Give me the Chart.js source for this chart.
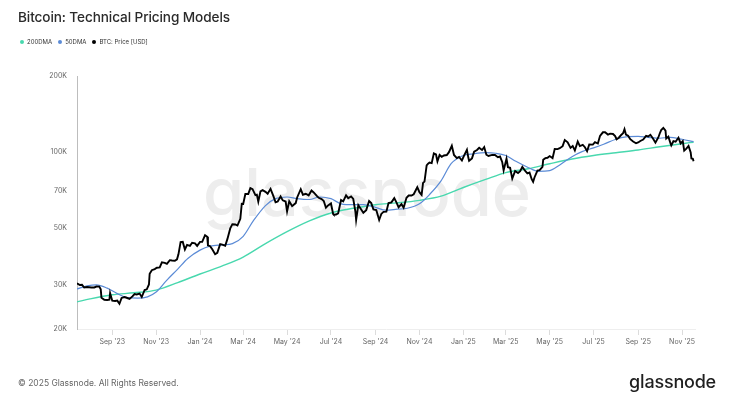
<!DOCTYPE html>
<html>
<head>
<meta charset="utf-8">
<title>Bitcoin: Technical Pricing Models</title>
<script src="https://cdn.jsdelivr.net/npm/chart.js@4.4.1/dist/chart.umd.min.js"></script>
<style>
  body { margin: 0; background: #fff; font-family: Inter, "Noto Sans", sans-serif; }
  #wrap { position: relative; width: 735px; height: 400px; overflow: hidden; }
  #chart { position: absolute; left: 0; top: 0; }
  .title { position: absolute; left: 18px; top: 9px; font-size: 13.6px; font-weight: 500; color: #2a2a2a; letter-spacing: -0.1px; }
  .legend { position: absolute; left: 20px; top: 38px; display: flex; gap: 6px; font-size: 6px; color: #333; }
  .legend span { display: flex; align-items: center; }
  .legend i { display: inline-block; width: 4px; height: 4px; border-radius: 50%; margin-right: 3px; }
  .copy { position: absolute; left: 18px; top: 378px; font-size: 8.5px; color: #666; }
  .logo { position: absolute; right: 19px; top: 371px; font-size: 18px; font-weight: 500; color: #1f1f1f; letter-spacing: -0.2px; }
</style>
</head>
<body>
<div id="wrap">
  <canvas id="chart" width="735" height="400"></canvas>
  <div class="title">Bitcoin: Technical Pricing Models</div>
  <div class="legend">
    <span><i style="background:#48d8ae"></i>200DMA</span>
    <span><i style="background:#5b8bd6"></i>50DMA</span>
    <span><i style="background:#000"></i>BTC: Price [USD]</span>
  </div>
  <div class="copy">© 2025 Glassnode. All Rights Reserved.</div>
  <div class="logo">glassnode</div>
</div>
<script>
// BTC price (USD)
const priceDates = [
  "2023-07-14","2023-07-18","2023-07-21","2023-07-24","2023-07-28","2023-07-31",
  "2023-08-03","2023-08-07","2023-08-10","2023-08-14","2023-08-16","2023-08-17","2023-08-21","2023-08-25","2023-08-28","2023-08-29",
  "2023-09-01","2023-09-05","2023-09-08","2023-09-11","2023-09-14","2023-09-18","2023-09-21","2023-09-25","2023-09-29",
  "2023-10-02","2023-10-05","2023-10-09","2023-10-12","2023-10-16","2023-10-19","2023-10-22","2023-10-23","2023-10-26","2023-10-30",
  "2023-11-02","2023-11-06","2023-11-09","2023-11-13","2023-11-16","2023-11-20","2023-11-23","2023-11-27","2023-11-30",
  "2023-12-02","2023-12-05","2023-12-08","2023-12-11","2023-12-14","2023-12-18","2023-12-21","2023-12-25","2023-12-28",
  "2024-01-01","2024-01-04","2024-01-08","2024-01-11","2024-01-12","2024-01-15","2024-01-18","2024-01-22","2024-01-25","2024-01-29",
  "2024-02-01","2024-02-05","2024-02-08","2024-02-12","2024-02-15","2024-02-19","2024-02-22","2024-02-26","2024-02-28",
  "2024-03-01","2024-03-04","2024-03-08","2024-03-11","2024-03-14","2024-03-18","2024-03-20","2024-03-22","2024-03-25","2024-03-28",
  "2024-04-01","2024-04-04","2024-04-08","2024-04-12","2024-04-15","2024-04-18","2024-04-22","2024-04-25","2024-04-29",
  "2024-05-01","2024-05-04","2024-05-08","2024-05-13","2024-05-15","2024-05-20","2024-05-23","2024-05-27","2024-05-31",
  "2024-06-04","2024-06-07","2024-06-11","2024-06-14","2024-06-18","2024-06-21","2024-06-24","2024-06-27",
  "2024-07-01","2024-07-04","2024-07-05","2024-07-08","2024-07-11","2024-07-15","2024-07-18","2024-07-22","2024-07-25","2024-07-29",
  "2024-08-01","2024-08-04","2024-08-05","2024-08-08","2024-08-12","2024-08-15","2024-08-19","2024-08-23","2024-08-26","2024-08-29",
  "2024-09-02","2024-09-06","2024-09-09","2024-09-12","2024-09-16","2024-09-19","2024-09-23","2024-09-27","2024-09-30",
  "2024-10-03","2024-10-07","2024-10-10","2024-10-14","2024-10-17","2024-10-21","2024-10-24","2024-10-29",
  "2024-11-01","2024-11-04","2024-11-06","2024-11-08","2024-11-11","2024-11-13","2024-11-15","2024-11-18","2024-11-21","2024-11-24","2024-11-26","2024-11-29",
  "2024-12-02","2024-12-05","2024-12-09","2024-12-12","2024-12-16","2024-12-19","2024-12-23","2024-12-26","2024-12-30",
  "2025-01-02","2025-01-06","2025-01-08","2025-01-09","2025-01-13","2025-01-16","2025-01-20","2025-01-23","2025-01-27","2025-01-30",
  "2025-02-02","2025-02-05","2025-02-10","2025-02-14","2025-02-18","2025-02-21","2025-02-24","2025-02-26",
  "2025-03-02","2025-03-04","2025-03-07","2025-03-10","2025-03-14","2025-03-18","2025-03-21","2025-03-24","2025-03-28","2025-03-31",
  "2025-04-03","2025-04-06","2025-04-08","2025-04-10","2025-04-14","2025-04-17","2025-04-21","2025-04-22","2025-04-25","2025-04-28",
  "2025-05-01","2025-05-05","2025-05-08","2025-05-12","2025-05-15","2025-05-19","2025-05-22","2025-05-26","2025-05-30",
  "2025-06-02","2025-06-05","2025-06-09","2025-06-12","2025-06-16","2025-06-19","2025-06-22","2025-06-25","2025-06-30",
  "2025-07-03","2025-07-07","2025-07-10","2025-07-14","2025-07-17","2025-07-21","2025-07-24","2025-07-28","2025-07-31",
  "2025-08-02","2025-08-05","2025-08-08","2025-08-11","2025-08-13","2025-08-15","2025-08-18","2025-08-21","2025-08-25","2025-08-29",
  "2025-09-01","2025-09-04","2025-09-08","2025-09-12","2025-09-15","2025-09-18","2025-09-22","2025-09-25","2025-09-29",
  "2025-10-01","2025-10-03","2025-10-06","2025-10-09","2025-10-10","2025-10-13","2025-10-16","2025-10-17","2025-10-20","2025-10-23","2025-10-27","2025-10-30",
  "2025-11-02","2025-11-04","2025-11-07","2025-11-10","2025-11-13","2025-11-14","2025-11-16","2025-11-17"
];
const priceUsd = [
  30300,29850,29900,29180,29300,29230,
  29170,29180,29430,29400,28700,26600,26100,26050,26100,27720,
  25870,25800,25900,25160,26530,26760,26580,26300,26900,
  27500,27400,27600,26750,28520,28700,29990,33080,34150,34500,
  34930,35040,36700,36500,36160,37420,37300,37240,37720,
  39450,44080,44200,41250,43000,42650,43850,43600,42600,
  44180,44180,46970,46340,42850,42510,41300,39500,40000,43300,
  43080,42660,45300,49950,51920,51780,51300,54520,62500,
  62400,68300,68300,72100,71400,67600,67900,63800,70000,70780,
  69700,68500,71600,67000,63400,63800,66800,64500,63800,
  58300,63900,61200,62900,66200,71400,67900,68500,67500,
  70500,69300,67300,66000,65200,64100,60300,61600,
  62700,57000,56600,56700,57300,64700,63900,67500,65800,66800,
  65300,58100,54000,61700,59300,57600,59000,64100,62900,59400,
  59100,53950,57000,58100,58200,62900,63300,65800,63300,
  60600,62300,60300,66000,67400,67400,68200,72700,
  69500,67800,75600,76500,88700,90000,91000,90500,98900,97900,91900,97500,
  95900,97000,97400,100000,106000,97500,94700,95700,92700,
  96900,102200,95000,92500,94500,100500,102000,104000,102000,104700,
  97700,96600,97500,97500,95500,96100,91500,84700,
  94200,87200,86700,78600,84300,82700,84100,87500,84300,82500,
  83100,78200,76300,79600,84500,84900,87500,93400,94700,95000,
  96500,94700,103000,102800,103700,105600,111700,109400,104000,
  105800,101500,110200,105700,106800,104600,100900,107300,107100,
  109600,108200,116000,119800,119800,117400,118400,118000,115800,
  112500,114100,116600,118700,123300,117400,116200,112500,110100,108400,
  109200,110700,112100,115900,115300,117100,112700,109000,114300,
  118500,122300,124700,121700,113200,115200,108200,106400,110500,110000,114100,108300,
  110600,101500,103300,105900,99700,94500,94200,92100
];

// 200-day moving average (USD)
const ma200Dates = [
  "2023-07-14","2023-08-01","2023-09-01","2023-10-01","2023-11-01","2023-12-01",
  "2024-01-01","2024-02-01","2024-03-01","2024-04-01","2024-05-01","2024-06-01",
  "2024-07-01","2024-08-01","2024-09-01","2024-10-01","2024-11-01","2024-12-01",
  "2025-01-01","2025-02-01","2025-03-01","2025-04-01","2025-05-01","2025-06-01",
  "2025-07-01","2025-08-01","2025-09-01","2025-10-01","2025-11-01","2025-11-17"
];
const ma200Usd = [
  25600,26300,27300,27800,28500,30500,
  33000,35500,38500,43500,48500,53500,
  57500,60000,62000,63000,64500,67000,
  72500,78000,83000,86000,90000,94000,
  97000,99500,102000,105000,108000,109500
];

// 50-day moving average (USD)
const ma50Dates = [
  "2023-07-14","2023-07-28","2023-08-10","2023-08-25","2023-09-08","2023-09-22","2023-10-06","2023-10-20",
  "2023-11-01","2023-11-15","2023-12-01","2023-12-15",
  "2024-01-01","2024-01-15","2024-02-01","2024-02-15","2024-03-01","2024-03-15","2024-04-01","2024-04-15",
  "2024-05-01","2024-05-15","2024-06-01","2024-06-15","2024-07-01","2024-07-15","2024-08-01","2024-08-15",
  "2024-09-01","2024-09-15","2024-10-01","2024-10-15","2024-11-01","2024-11-15","2024-12-01","2024-12-15",
  "2025-01-01","2025-01-15","2025-02-01","2025-02-15","2025-03-01","2025-03-15","2025-04-01","2025-04-15",
  "2025-05-01","2025-05-15","2025-06-01","2025-06-15","2025-07-01","2025-07-15","2025-08-01","2025-08-15",
  "2025-09-01","2025-09-15","2025-10-01","2025-10-15","2025-11-01","2025-11-17"
];
const ma50Usd = [
  28800,29600,29900,29000,27600,26600,26500,26800,
  28000,31000,34500,38000,
  41000,42500,43000,43500,46500,53500,61500,65500,
  66500,65500,65000,66500,65500,62500,62000,62000,
  60500,59000,59500,60000,62500,68000,77000,90000,
  97000,98500,99500,99000,97000,92000,87000,84000,
  84500,89000,96000,100500,104000,107500,112500,115000,
  115500,114500,113500,114500,112500,110000
];

// axis ticks
const xTickDates = ["2023-09-01","2023-11-01","2024-01-01","2024-03-01","2024-05-01","2024-07-01","2024-09-01",
  "2024-11-01","2025-01-01","2025-03-01","2025-05-01","2025-07-01","2025-09-01","2025-11-01"];
const xTickLabels = ["Sep '23","Nov '23","Jan '24","Mar '24","May '24","Jul '24","Sep '24",
  "Nov '24","Jan '25","Mar '25","May '25","Jul '25","Sep '25","Nov '25"];
const yTickValues = [20000, 30000, 50000, 70000, 100000, 200000];
const yTickLabels = ["20K", "30K", "50K", "70K", "100K", "200K"];

function dayNum(s) {
  const p = s.split("-").map(Number);
  return Date.UTC(p[0], p[1] - 1, p[2]) / 864e5;
}
function points(dates, values) {
  return dates.map((d, i) => ({ x: dayNum(d), y: values[i] }));
}

const watermark = {
  id: "watermark",
  beforeDatasetsDraw(chart) {
    const ctx = chart.ctx;
    ctx.save();
    ctx.font = "500 100px Inter";
    const w = ctx.measureText("glassnode").width;
    ctx.font = "500 " + (100 * 328 / w) + "px Inter";
    ctx.fillStyle = "#ededed";
    ctx.textAlign = "center";
    ctx.textBaseline = "alphabetic";
    ctx.fillText("glassnode", 367, 216);
    ctx.restore();
  }
};

const axisFont = { family: "Inter", size: 7 };

new Chart(document.getElementById("chart"), {
  type: "line",
  data: {
    datasets: [
      {
        label: "BTC: Price [USD]",
        data: points(priceDates, priceUsd),
        borderColor: "#000",
        borderWidth: 1.9,
        pointRadius: 0,
        tension: 0,
        order: 0
      },
      {
        label: "50DMA",
        data: points(ma50Dates, ma50Usd),
        borderColor: "#5b8bd6",
        borderWidth: 1.2,
        pointRadius: 0,
        cubicInterpolationMode: "monotone",
        order: 1
      },
      {
        label: "200DMA",
        data: points(ma200Dates, ma200Usd),
        borderColor: "#48d8ae",
        borderWidth: 1.4,
        pointRadius: 0,
        cubicInterpolationMode: "monotone",
        order: 2
      }
    ]
  },
  options: {
    responsive: false,
    animation: false,
    layout: { padding: { left: 18, right: 40, top: 76, bottom: 51 } },
    plugins: {
      legend: { display: false },
      tooltip: { enabled: false }
    },
    scales: {
      x: {
        type: "linear",
        min: dayNum("2023-07-14"),
        max: dayNum("2025-11-19"),
        afterBuildTicks: s => { s.ticks = xTickDates.map(d => ({ value: dayNum(d) })); },
        afterFit: s => { s.height = 20; },
        grid: { drawOnChartArea: false, drawTicks: true, tickLength: 6, color: "#dcdcdc" },
        border: { color: "#eeeeee" },
        ticks: {
          autoSkip: false,
          maxRotation: 0,
          padding: 3,
          color: "#666",
          font: axisFont,
          callback: (v, i) => xTickLabels[i]
        }
      },
      y: {
        type: "logarithmic",
        min: 20000,
        max: 200000,
        afterBuildTicks: s => { s.ticks = yTickValues.map(v => ({ value: v })); },
        afterFit: s => { s.width = 59; },
        grid: { display: true, drawOnChartArea: false, drawTicks: false },
        border: { color: "#bdbdbd", width: 1 },
        ticks: {
          padding: 10,
          color: "#666",
          font: axisFont,
          callback: (v, i) => yTickLabels[i]
        }
      }
    }
  },
  plugins: [watermark]
});
</script>
</body>
</html>
